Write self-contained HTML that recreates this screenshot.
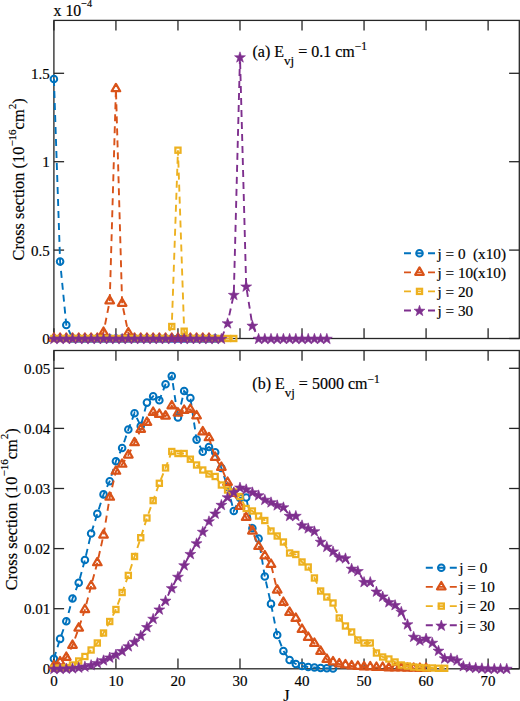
<!DOCTYPE html>
<html><head><meta charset="utf-8"><style>
html,body{margin:0;padding:0;background:#fff;}
svg{display:block;}
text{font-family:"Liberation Serif",serif;font-size:15px;fill:#000;stroke:#000;stroke-width:0.18px;}
.lg{font-size:15.2px;}
.an{font-size:16px;}
</style></head><body>
<svg width="520" height="701" viewBox="0 0 520 701">
<defs>
<clipPath id="c1"><rect x="43.9" y="10.399999999999999" width="475.9" height="338.1"/></clipPath>
<clipPath id="c2"><rect x="43.9" y="340.5" width="475.9" height="338.29999999999995"/></clipPath>
</defs>
<rect x="0" y="0" width="520" height="701" fill="#fff"/>
<g stroke="#262626" stroke-width="1.3" fill="none">
<line x1="53.90" y1="338.50" x2="53.90" y2="328.30"/>
<line x1="53.90" y1="20.40" x2="53.90" y2="30.60"/>
<line x1="115.93" y1="338.50" x2="115.93" y2="328.30"/>
<line x1="115.93" y1="20.40" x2="115.93" y2="30.60"/>
<line x1="177.96" y1="338.50" x2="177.96" y2="328.30"/>
<line x1="177.96" y1="20.40" x2="177.96" y2="30.60"/>
<line x1="239.99" y1="338.50" x2="239.99" y2="328.30"/>
<line x1="239.99" y1="20.40" x2="239.99" y2="30.60"/>
<line x1="302.02" y1="338.50" x2="302.02" y2="328.30"/>
<line x1="302.02" y1="20.40" x2="302.02" y2="30.60"/>
<line x1="364.05" y1="338.50" x2="364.05" y2="328.30"/>
<line x1="364.05" y1="20.40" x2="364.05" y2="30.60"/>
<line x1="426.08" y1="338.50" x2="426.08" y2="328.30"/>
<line x1="426.08" y1="20.40" x2="426.08" y2="30.60"/>
<line x1="488.11" y1="338.50" x2="488.11" y2="328.30"/>
<line x1="488.11" y1="20.40" x2="488.11" y2="30.60"/>
<line x1="53.90" y1="338.50" x2="64.10" y2="338.50"/>
<line x1="519.30" y1="338.50" x2="509.10" y2="338.50"/>
<line x1="53.90" y1="250.10" x2="64.10" y2="250.10"/>
<line x1="519.30" y1="250.10" x2="509.10" y2="250.10"/>
<line x1="53.90" y1="161.70" x2="64.10" y2="161.70"/>
<line x1="519.30" y1="161.70" x2="509.10" y2="161.70"/>
<line x1="53.90" y1="73.30" x2="64.10" y2="73.30"/>
<line x1="519.30" y1="73.30" x2="509.10" y2="73.30"/>
<rect x="53.90" y="20.40" width="465.40" height="318.10" fill="none"/>
<line x1="53.90" y1="668.80" x2="53.90" y2="658.60"/>
<line x1="53.90" y1="350.50" x2="53.90" y2="360.70"/>
<line x1="115.93" y1="668.80" x2="115.93" y2="658.60"/>
<line x1="115.93" y1="350.50" x2="115.93" y2="360.70"/>
<line x1="177.96" y1="668.80" x2="177.96" y2="658.60"/>
<line x1="177.96" y1="350.50" x2="177.96" y2="360.70"/>
<line x1="239.99" y1="668.80" x2="239.99" y2="658.60"/>
<line x1="239.99" y1="350.50" x2="239.99" y2="360.70"/>
<line x1="302.02" y1="668.80" x2="302.02" y2="658.60"/>
<line x1="302.02" y1="350.50" x2="302.02" y2="360.70"/>
<line x1="364.05" y1="668.80" x2="364.05" y2="658.60"/>
<line x1="364.05" y1="350.50" x2="364.05" y2="360.70"/>
<line x1="426.08" y1="668.80" x2="426.08" y2="658.60"/>
<line x1="426.08" y1="350.50" x2="426.08" y2="360.70"/>
<line x1="488.11" y1="668.80" x2="488.11" y2="658.60"/>
<line x1="488.11" y1="350.50" x2="488.11" y2="360.70"/>
<line x1="53.90" y1="668.80" x2="64.10" y2="668.80"/>
<line x1="519.30" y1="668.80" x2="509.10" y2="668.80"/>
<line x1="53.90" y1="608.70" x2="64.10" y2="608.70"/>
<line x1="519.30" y1="608.70" x2="509.10" y2="608.70"/>
<line x1="53.90" y1="548.60" x2="64.10" y2="548.60"/>
<line x1="519.30" y1="548.60" x2="509.10" y2="548.60"/>
<line x1="53.90" y1="488.50" x2="64.10" y2="488.50"/>
<line x1="519.30" y1="488.50" x2="509.10" y2="488.50"/>
<line x1="53.90" y1="428.40" x2="64.10" y2="428.40"/>
<line x1="519.30" y1="428.40" x2="509.10" y2="428.40"/>
<line x1="53.90" y1="368.30" x2="64.10" y2="368.30"/>
<line x1="519.30" y1="368.30" x2="509.10" y2="368.30"/>
<rect x="53.90" y="350.50" width="465.40" height="318.30" fill="none"/>
</g>
<g>
<text x="49.8" y="344.00" text-anchor="end">0</text>
<text x="49.8" y="255.60" text-anchor="end">0.5</text>
<text x="49.8" y="167.20" text-anchor="end">1</text>
<text x="49.8" y="78.80" text-anchor="end">1.5</text>
<text x="50.2" y="674.30" text-anchor="end">0</text>
<text x="50.2" y="614.20" text-anchor="end">0.01</text>
<text x="50.2" y="554.10" text-anchor="end">0.02</text>
<text x="50.2" y="494.00" text-anchor="end">0.03</text>
<text x="50.2" y="433.90" text-anchor="end">0.04</text>
<text x="50.2" y="373.80" text-anchor="end">0.05</text>
<text x="53.90" y="686" text-anchor="middle">0</text>
<text x="115.93" y="686" text-anchor="middle">10</text>
<text x="177.96" y="686" text-anchor="middle">20</text>
<text x="239.99" y="686" text-anchor="middle">30</text>
<text x="302.02" y="686" text-anchor="middle">40</text>
<text x="364.05" y="686" text-anchor="middle">50</text>
<text x="426.08" y="686" text-anchor="middle">60</text>
<text x="488.11" y="686" text-anchor="middle">70</text>
</g>
<g clip-path="url(#c1)">
<polyline points="53.90,79.00 60.10,261.50 66.31,325.00 72.51,338.50 78.71,338.50 84.91,338.50 91.12,338.50 97.32,338.50 103.52,338.50 109.73,338.50 115.93,338.50 122.13,338.50 128.34,338.50 134.54,338.50 140.74,338.50 146.94,338.50 153.15,338.50 159.35,338.50 165.55,338.50 171.76,338.50 177.96,338.50 184.16,338.50 190.37,338.50 196.57,338.50 202.77,338.50 208.98,338.50 215.18,338.50" fill="none" stroke="#0072BD" stroke-width="1.9" stroke-dasharray="7 5"/>
<circle cx="53.90" cy="79.00" r="3.3" fill="none" stroke="#0072BD" stroke-width="2"/>
<circle cx="60.10" cy="261.50" r="3.3" fill="none" stroke="#0072BD" stroke-width="2"/>
<circle cx="66.31" cy="325.00" r="3.3" fill="none" stroke="#0072BD" stroke-width="2"/>
<circle cx="72.51" cy="338.50" r="3.3" fill="none" stroke="#0072BD" stroke-width="2"/>
<circle cx="78.71" cy="338.50" r="3.3" fill="none" stroke="#0072BD" stroke-width="2"/>
<circle cx="84.91" cy="338.50" r="3.3" fill="none" stroke="#0072BD" stroke-width="2"/>
<circle cx="91.12" cy="338.50" r="3.3" fill="none" stroke="#0072BD" stroke-width="2"/>
<circle cx="97.32" cy="338.50" r="3.3" fill="none" stroke="#0072BD" stroke-width="2"/>
<circle cx="103.52" cy="338.50" r="3.3" fill="none" stroke="#0072BD" stroke-width="2"/>
<circle cx="109.73" cy="338.50" r="3.3" fill="none" stroke="#0072BD" stroke-width="2"/>
<circle cx="115.93" cy="338.50" r="3.3" fill="none" stroke="#0072BD" stroke-width="2"/>
<circle cx="122.13" cy="338.50" r="3.3" fill="none" stroke="#0072BD" stroke-width="2"/>
<circle cx="128.34" cy="338.50" r="3.3" fill="none" stroke="#0072BD" stroke-width="2"/>
<circle cx="134.54" cy="338.50" r="3.3" fill="none" stroke="#0072BD" stroke-width="2"/>
<circle cx="140.74" cy="338.50" r="3.3" fill="none" stroke="#0072BD" stroke-width="2"/>
<circle cx="146.94" cy="338.50" r="3.3" fill="none" stroke="#0072BD" stroke-width="2"/>
<circle cx="153.15" cy="338.50" r="3.3" fill="none" stroke="#0072BD" stroke-width="2"/>
<circle cx="159.35" cy="338.50" r="3.3" fill="none" stroke="#0072BD" stroke-width="2"/>
<circle cx="165.55" cy="338.50" r="3.3" fill="none" stroke="#0072BD" stroke-width="2"/>
<circle cx="171.76" cy="338.50" r="3.3" fill="none" stroke="#0072BD" stroke-width="2"/>
<circle cx="177.96" cy="338.50" r="3.3" fill="none" stroke="#0072BD" stroke-width="2"/>
<circle cx="184.16" cy="338.50" r="3.3" fill="none" stroke="#0072BD" stroke-width="2"/>
<circle cx="190.37" cy="338.50" r="3.3" fill="none" stroke="#0072BD" stroke-width="2"/>
<circle cx="196.57" cy="338.50" r="3.3" fill="none" stroke="#0072BD" stroke-width="2"/>
<circle cx="202.77" cy="338.50" r="3.3" fill="none" stroke="#0072BD" stroke-width="2"/>
<circle cx="208.98" cy="338.50" r="3.3" fill="none" stroke="#0072BD" stroke-width="2"/>
<circle cx="215.18" cy="338.50" r="3.3" fill="none" stroke="#0072BD" stroke-width="2"/>
</g>
<g clip-path="url(#c1)">
<polyline points="53.90,338.50 60.10,338.50 66.31,338.50 72.51,338.50 78.71,338.50 84.91,338.50 91.12,338.50 97.32,338.50 103.52,332.40 109.73,301.00 115.93,88.80 122.13,303.40 128.34,332.90 134.54,338.50 140.74,338.50 146.94,338.50 153.15,338.50 159.35,338.50 165.55,338.50 171.76,338.50 177.96,338.50 184.16,338.50 190.37,338.50 196.57,338.50 202.77,338.50 208.98,338.50" fill="none" stroke="#D95319" stroke-width="1.9" stroke-dasharray="7 5"/>
<path d="M53.90 333.55L58.20 340.90L49.60 340.90Z" fill="none" stroke="#D95319" stroke-width="2.25" stroke-linejoin="round"/>
<path d="M60.10 333.55L64.40 340.90L55.80 340.90Z" fill="none" stroke="#D95319" stroke-width="2.25" stroke-linejoin="round"/>
<path d="M66.31 333.55L70.61 340.90L62.01 340.90Z" fill="none" stroke="#D95319" stroke-width="2.25" stroke-linejoin="round"/>
<path d="M72.51 333.55L76.81 340.90L68.21 340.90Z" fill="none" stroke="#D95319" stroke-width="2.25" stroke-linejoin="round"/>
<path d="M78.71 333.55L83.01 340.90L74.41 340.90Z" fill="none" stroke="#D95319" stroke-width="2.25" stroke-linejoin="round"/>
<path d="M84.91 333.55L89.21 340.90L80.61 340.90Z" fill="none" stroke="#D95319" stroke-width="2.25" stroke-linejoin="round"/>
<path d="M91.12 333.55L95.42 340.90L86.82 340.90Z" fill="none" stroke="#D95319" stroke-width="2.25" stroke-linejoin="round"/>
<path d="M97.32 333.55L101.62 340.90L93.02 340.90Z" fill="none" stroke="#D95319" stroke-width="2.25" stroke-linejoin="round"/>
<path d="M103.52 327.45L107.82 334.80L99.22 334.80Z" fill="none" stroke="#D95319" stroke-width="2.25" stroke-linejoin="round"/>
<path d="M109.73 296.05L114.03 303.40L105.43 303.40Z" fill="none" stroke="#D95319" stroke-width="2.25" stroke-linejoin="round"/>
<path d="M115.93 83.85L120.23 91.20L111.63 91.20Z" fill="none" stroke="#D95319" stroke-width="2.25" stroke-linejoin="round"/>
<path d="M122.13 298.45L126.43 305.80L117.83 305.80Z" fill="none" stroke="#D95319" stroke-width="2.25" stroke-linejoin="round"/>
<path d="M128.34 327.95L132.64 335.30L124.04 335.30Z" fill="none" stroke="#D95319" stroke-width="2.25" stroke-linejoin="round"/>
<path d="M134.54 333.55L138.84 340.90L130.24 340.90Z" fill="none" stroke="#D95319" stroke-width="2.25" stroke-linejoin="round"/>
<path d="M140.74 333.55L145.04 340.90L136.44 340.90Z" fill="none" stroke="#D95319" stroke-width="2.25" stroke-linejoin="round"/>
<path d="M146.94 333.55L151.25 340.90L142.64 340.90Z" fill="none" stroke="#D95319" stroke-width="2.25" stroke-linejoin="round"/>
<path d="M153.15 333.55L157.45 340.90L148.85 340.90Z" fill="none" stroke="#D95319" stroke-width="2.25" stroke-linejoin="round"/>
<path d="M159.35 333.55L163.65 340.90L155.05 340.90Z" fill="none" stroke="#D95319" stroke-width="2.25" stroke-linejoin="round"/>
<path d="M165.55 333.55L169.85 340.90L161.25 340.90Z" fill="none" stroke="#D95319" stroke-width="2.25" stroke-linejoin="round"/>
<path d="M171.76 333.55L176.06 340.90L167.46 340.90Z" fill="none" stroke="#D95319" stroke-width="2.25" stroke-linejoin="round"/>
<path d="M177.96 333.55L182.26 340.90L173.66 340.90Z" fill="none" stroke="#D95319" stroke-width="2.25" stroke-linejoin="round"/>
<path d="M184.16 333.55L188.46 340.90L179.86 340.90Z" fill="none" stroke="#D95319" stroke-width="2.25" stroke-linejoin="round"/>
<path d="M190.37 333.55L194.67 340.90L186.07 340.90Z" fill="none" stroke="#D95319" stroke-width="2.25" stroke-linejoin="round"/>
<path d="M196.57 333.55L200.87 340.90L192.27 340.90Z" fill="none" stroke="#D95319" stroke-width="2.25" stroke-linejoin="round"/>
<path d="M202.77 333.55L207.07 340.90L198.47 340.90Z" fill="none" stroke="#D95319" stroke-width="2.25" stroke-linejoin="round"/>
<path d="M208.98 333.55L213.28 340.90L204.68 340.90Z" fill="none" stroke="#D95319" stroke-width="2.25" stroke-linejoin="round"/>
</g>
<g clip-path="url(#c1)">
<polyline points="53.90,338.50 60.10,338.50 66.31,338.50 72.51,338.50 78.71,338.50 84.91,338.50 91.12,338.50 97.32,338.50 103.52,338.50 109.73,338.50 115.93,338.50 122.13,338.50 128.34,338.50 134.54,338.50 140.74,338.50 146.94,338.50 153.15,338.50 159.35,338.50 165.55,338.50 171.76,326.50 177.96,150.20 184.16,331.20 190.37,338.50 196.57,338.50 202.77,338.50 208.98,338.50 215.18,338.50 221.38,338.50 227.58,338.50 233.79,338.50" fill="none" stroke="#EDB120" stroke-width="1.9" stroke-dasharray="7 5"/>
<rect x="51.30" y="335.90" width="5.20" height="5.20" fill="none" stroke="#EDB120" stroke-width="2.2"/>
<rect x="57.50" y="335.90" width="5.20" height="5.20" fill="none" stroke="#EDB120" stroke-width="2.2"/>
<rect x="63.71" y="335.90" width="5.20" height="5.20" fill="none" stroke="#EDB120" stroke-width="2.2"/>
<rect x="69.91" y="335.90" width="5.20" height="5.20" fill="none" stroke="#EDB120" stroke-width="2.2"/>
<rect x="76.11" y="335.90" width="5.20" height="5.20" fill="none" stroke="#EDB120" stroke-width="2.2"/>
<rect x="82.31" y="335.90" width="5.20" height="5.20" fill="none" stroke="#EDB120" stroke-width="2.2"/>
<rect x="88.52" y="335.90" width="5.20" height="5.20" fill="none" stroke="#EDB120" stroke-width="2.2"/>
<rect x="94.72" y="335.90" width="5.20" height="5.20" fill="none" stroke="#EDB120" stroke-width="2.2"/>
<rect x="100.92" y="335.90" width="5.20" height="5.20" fill="none" stroke="#EDB120" stroke-width="2.2"/>
<rect x="107.13" y="335.90" width="5.20" height="5.20" fill="none" stroke="#EDB120" stroke-width="2.2"/>
<rect x="113.33" y="335.90" width="5.20" height="5.20" fill="none" stroke="#EDB120" stroke-width="2.2"/>
<rect x="119.53" y="335.90" width="5.20" height="5.20" fill="none" stroke="#EDB120" stroke-width="2.2"/>
<rect x="125.74" y="335.90" width="5.20" height="5.20" fill="none" stroke="#EDB120" stroke-width="2.2"/>
<rect x="131.94" y="335.90" width="5.20" height="5.20" fill="none" stroke="#EDB120" stroke-width="2.2"/>
<rect x="138.14" y="335.90" width="5.20" height="5.20" fill="none" stroke="#EDB120" stroke-width="2.2"/>
<rect x="144.34" y="335.90" width="5.20" height="5.20" fill="none" stroke="#EDB120" stroke-width="2.2"/>
<rect x="150.55" y="335.90" width="5.20" height="5.20" fill="none" stroke="#EDB120" stroke-width="2.2"/>
<rect x="156.75" y="335.90" width="5.20" height="5.20" fill="none" stroke="#EDB120" stroke-width="2.2"/>
<rect x="162.95" y="335.90" width="5.20" height="5.20" fill="none" stroke="#EDB120" stroke-width="2.2"/>
<rect x="169.16" y="323.90" width="5.20" height="5.20" fill="none" stroke="#EDB120" stroke-width="2.2"/>
<rect x="175.36" y="147.60" width="5.20" height="5.20" fill="none" stroke="#EDB120" stroke-width="2.2"/>
<rect x="181.56" y="328.60" width="5.20" height="5.20" fill="none" stroke="#EDB120" stroke-width="2.2"/>
<rect x="187.77" y="335.90" width="5.20" height="5.20" fill="none" stroke="#EDB120" stroke-width="2.2"/>
<rect x="193.97" y="335.90" width="5.20" height="5.20" fill="none" stroke="#EDB120" stroke-width="2.2"/>
<rect x="200.17" y="335.90" width="5.20" height="5.20" fill="none" stroke="#EDB120" stroke-width="2.2"/>
<rect x="206.38" y="335.90" width="5.20" height="5.20" fill="none" stroke="#EDB120" stroke-width="2.2"/>
<rect x="212.58" y="335.90" width="5.20" height="5.20" fill="none" stroke="#EDB120" stroke-width="2.2"/>
<rect x="218.78" y="335.90" width="5.20" height="5.20" fill="none" stroke="#EDB120" stroke-width="2.2"/>
<rect x="224.98" y="335.90" width="5.20" height="5.20" fill="none" stroke="#EDB120" stroke-width="2.2"/>
<rect x="231.19" y="335.90" width="5.20" height="5.20" fill="none" stroke="#EDB120" stroke-width="2.2"/>
</g>
<g clip-path="url(#c1)">
<polyline points="53.90,338.50 60.10,338.50 66.31,338.50 72.51,338.50 78.71,338.50 84.91,338.50 91.12,338.50 97.32,338.50 103.52,338.50 109.73,338.50 115.93,338.50 122.13,338.50 128.34,338.50 134.54,338.50 140.74,338.50 146.94,338.50 153.15,338.50 159.35,338.50 165.55,338.50 171.76,338.50 177.96,338.50 184.16,338.50 190.37,338.50 196.57,338.50 202.77,338.50 208.98,338.50 215.18,338.50 221.38,338.50 227.58,323.00 233.79,294.60 239.99,57.00 246.19,286.20 252.40,325.40 258.60,338.50 264.80,338.50 271.00,338.50 277.21,338.50 283.41,338.50 289.61,338.50 295.82,338.50 302.02,338.50 308.22,338.50 314.43,338.50 320.63,338.50 326.83,338.50" fill="none" stroke="#7E2F8E" stroke-width="1.9" stroke-dasharray="7 5"/>
<polygon points="53.90,333.30 55.25,337.19 59.37,337.27 56.09,339.76 57.28,343.70 53.90,341.35 50.52,343.70 51.71,339.76 48.43,337.27 52.55,337.19" fill="#7E2F8E" stroke="#7E2F8E" stroke-width="0.6" stroke-linejoin="round"/>
<polygon points="60.10,333.30 61.45,337.19 65.57,337.27 62.29,339.76 63.48,343.70 60.10,341.35 56.72,343.70 57.92,339.76 54.63,337.27 58.75,337.19" fill="#7E2F8E" stroke="#7E2F8E" stroke-width="0.6" stroke-linejoin="round"/>
<polygon points="66.31,333.30 67.66,337.19 71.77,337.27 68.49,339.76 69.69,343.70 66.31,341.35 62.93,343.70 64.12,339.76 60.84,337.27 64.95,337.19" fill="#7E2F8E" stroke="#7E2F8E" stroke-width="0.6" stroke-linejoin="round"/>
<polygon points="72.51,333.30 73.86,337.19 77.98,337.27 74.70,339.76 75.89,343.70 72.51,341.35 69.13,343.70 70.32,339.76 67.04,337.27 71.16,337.19" fill="#7E2F8E" stroke="#7E2F8E" stroke-width="0.6" stroke-linejoin="round"/>
<polygon points="78.71,333.30 80.06,337.19 84.18,337.27 80.90,339.76 82.09,343.70 78.71,341.35 75.33,343.70 76.52,339.76 73.24,337.27 77.36,337.19" fill="#7E2F8E" stroke="#7E2F8E" stroke-width="0.6" stroke-linejoin="round"/>
<polygon points="84.91,333.30 86.27,337.19 90.38,337.27 87.10,339.76 88.29,343.70 84.91,341.35 81.54,343.70 82.73,339.76 79.45,337.27 83.56,337.19" fill="#7E2F8E" stroke="#7E2F8E" stroke-width="0.6" stroke-linejoin="round"/>
<polygon points="91.12,333.30 92.47,337.19 96.59,337.27 93.31,339.76 94.50,343.70 91.12,341.35 87.74,343.70 88.93,339.76 85.65,337.27 89.77,337.19" fill="#7E2F8E" stroke="#7E2F8E" stroke-width="0.6" stroke-linejoin="round"/>
<polygon points="97.32,333.30 98.67,337.19 102.79,337.27 99.51,339.76 100.70,343.70 97.32,341.35 93.94,343.70 95.13,339.76 91.85,337.27 95.97,337.19" fill="#7E2F8E" stroke="#7E2F8E" stroke-width="0.6" stroke-linejoin="round"/>
<polygon points="103.52,333.30 104.88,337.19 108.99,337.27 105.71,339.76 106.90,343.70 103.52,341.35 100.14,343.70 101.34,339.76 98.06,337.27 102.17,337.19" fill="#7E2F8E" stroke="#7E2F8E" stroke-width="0.6" stroke-linejoin="round"/>
<polygon points="109.73,333.30 111.08,337.19 115.20,337.27 111.91,339.76 113.11,343.70 109.73,341.35 106.35,343.70 107.54,339.76 104.26,337.27 108.38,337.19" fill="#7E2F8E" stroke="#7E2F8E" stroke-width="0.6" stroke-linejoin="round"/>
<polygon points="115.93,333.30 117.28,337.19 121.40,337.27 118.12,339.76 119.31,343.70 115.93,341.35 112.55,343.70 113.74,339.76 110.46,337.27 114.58,337.19" fill="#7E2F8E" stroke="#7E2F8E" stroke-width="0.6" stroke-linejoin="round"/>
<polygon points="122.13,333.30 123.48,337.19 127.60,337.27 124.32,339.76 125.51,343.70 122.13,341.35 118.75,343.70 119.95,339.76 116.66,337.27 120.78,337.19" fill="#7E2F8E" stroke="#7E2F8E" stroke-width="0.6" stroke-linejoin="round"/>
<polygon points="128.34,333.30 129.69,337.19 133.80,337.27 130.52,339.76 131.72,343.70 128.34,341.35 124.96,343.70 126.15,339.76 122.87,337.27 126.98,337.19" fill="#7E2F8E" stroke="#7E2F8E" stroke-width="0.6" stroke-linejoin="round"/>
<polygon points="134.54,333.30 135.89,337.19 140.01,337.27 136.73,339.76 137.92,343.70 134.54,341.35 131.16,343.70 132.35,339.76 129.07,337.27 133.19,337.19" fill="#7E2F8E" stroke="#7E2F8E" stroke-width="0.6" stroke-linejoin="round"/>
<polygon points="140.74,333.30 142.09,337.19 146.21,337.27 142.93,339.76 144.12,343.70 140.74,341.35 137.36,343.70 138.55,339.76 135.27,337.27 139.39,337.19" fill="#7E2F8E" stroke="#7E2F8E" stroke-width="0.6" stroke-linejoin="round"/>
<polygon points="146.94,333.30 148.30,337.19 152.41,337.27 149.13,339.76 150.32,343.70 146.94,341.35 143.57,343.70 144.76,339.76 141.48,337.27 145.59,337.19" fill="#7E2F8E" stroke="#7E2F8E" stroke-width="0.6" stroke-linejoin="round"/>
<polygon points="153.15,333.30 154.50,337.19 158.62,337.27 155.34,339.76 156.53,343.70 153.15,341.35 149.77,343.70 150.96,339.76 147.68,337.27 151.80,337.19" fill="#7E2F8E" stroke="#7E2F8E" stroke-width="0.6" stroke-linejoin="round"/>
<polygon points="159.35,333.30 160.70,337.19 164.82,337.27 161.54,339.76 162.73,343.70 159.35,341.35 155.97,343.70 157.16,339.76 153.88,337.27 158.00,337.19" fill="#7E2F8E" stroke="#7E2F8E" stroke-width="0.6" stroke-linejoin="round"/>
<polygon points="165.55,333.30 166.91,337.19 171.02,337.27 167.74,339.76 168.93,343.70 165.55,341.35 162.17,343.70 163.37,339.76 160.09,337.27 164.20,337.19" fill="#7E2F8E" stroke="#7E2F8E" stroke-width="0.6" stroke-linejoin="round"/>
<polygon points="171.76,333.30 173.11,337.19 177.23,337.27 173.94,339.76 175.14,343.70 171.76,341.35 168.38,343.70 169.57,339.76 166.29,337.27 170.41,337.19" fill="#7E2F8E" stroke="#7E2F8E" stroke-width="0.6" stroke-linejoin="round"/>
<polygon points="177.96,333.30 179.31,337.19 183.43,337.27 180.15,339.76 181.34,343.70 177.96,341.35 174.58,343.70 175.77,339.76 172.49,337.27 176.61,337.19" fill="#7E2F8E" stroke="#7E2F8E" stroke-width="0.6" stroke-linejoin="round"/>
<polygon points="184.16,333.30 185.51,337.19 189.63,337.27 186.35,339.76 187.54,343.70 184.16,341.35 180.78,343.70 181.98,339.76 178.69,337.27 182.81,337.19" fill="#7E2F8E" stroke="#7E2F8E" stroke-width="0.6" stroke-linejoin="round"/>
<polygon points="190.37,333.30 191.72,337.19 195.83,337.27 192.55,339.76 193.75,343.70 190.37,341.35 186.99,343.70 188.18,339.76 184.90,337.27 189.01,337.19" fill="#7E2F8E" stroke="#7E2F8E" stroke-width="0.6" stroke-linejoin="round"/>
<polygon points="196.57,333.30 197.92,337.19 202.04,337.27 198.76,339.76 199.95,343.70 196.57,341.35 193.19,343.70 194.38,339.76 191.10,337.27 195.22,337.19" fill="#7E2F8E" stroke="#7E2F8E" stroke-width="0.6" stroke-linejoin="round"/>
<polygon points="202.77,333.30 204.12,337.19 208.24,337.27 204.96,339.76 206.15,343.70 202.77,341.35 199.39,343.70 200.58,339.76 197.30,337.27 201.42,337.19" fill="#7E2F8E" stroke="#7E2F8E" stroke-width="0.6" stroke-linejoin="round"/>
<polygon points="208.98,333.30 210.33,337.19 214.44,337.27 211.16,339.76 212.35,343.70 208.98,341.35 205.60,343.70 206.79,339.76 203.51,337.27 207.62,337.19" fill="#7E2F8E" stroke="#7E2F8E" stroke-width="0.6" stroke-linejoin="round"/>
<polygon points="215.18,333.30 216.53,337.19 220.65,337.27 217.37,339.76 218.56,343.70 215.18,341.35 211.80,343.70 212.99,339.76 209.71,337.27 213.83,337.19" fill="#7E2F8E" stroke="#7E2F8E" stroke-width="0.6" stroke-linejoin="round"/>
<polygon points="221.38,333.30 222.73,337.19 226.85,337.27 223.57,339.76 224.76,343.70 221.38,341.35 218.00,343.70 219.19,339.76 215.91,337.27 220.03,337.19" fill="#7E2F8E" stroke="#7E2F8E" stroke-width="0.6" stroke-linejoin="round"/>
<polygon points="227.58,317.80 228.94,321.69 233.05,321.77 229.77,324.26 230.96,328.20 227.58,325.85 224.20,328.20 225.40,324.26 222.12,321.77 226.23,321.69" fill="#7E2F8E" stroke="#7E2F8E" stroke-width="0.6" stroke-linejoin="round"/>
<polygon points="233.79,289.40 235.14,293.29 239.26,293.37 235.97,295.86 237.17,299.80 233.79,297.45 230.41,299.80 231.60,295.86 228.32,293.37 232.44,293.29" fill="#7E2F8E" stroke="#7E2F8E" stroke-width="0.6" stroke-linejoin="round"/>
<polygon points="239.99,51.80 241.34,55.69 245.46,55.77 242.18,58.26 243.37,62.20 239.99,59.85 236.61,62.20 237.80,58.26 234.52,55.77 238.64,55.69" fill="#7E2F8E" stroke="#7E2F8E" stroke-width="0.6" stroke-linejoin="round"/>
<polygon points="246.19,281.00 247.54,284.89 251.66,284.97 248.38,287.46 249.57,291.40 246.19,289.05 242.81,291.40 244.01,287.46 240.72,284.97 244.84,284.89" fill="#7E2F8E" stroke="#7E2F8E" stroke-width="0.6" stroke-linejoin="round"/>
<polygon points="252.40,320.20 253.75,324.09 257.86,324.17 254.58,326.66 255.78,330.60 252.40,328.25 249.02,330.60 250.21,326.66 246.93,324.17 251.04,324.09" fill="#7E2F8E" stroke="#7E2F8E" stroke-width="0.6" stroke-linejoin="round"/>
<polygon points="258.60,333.30 259.95,337.19 264.07,337.27 260.79,339.76 261.98,343.70 258.60,341.35 255.22,343.70 256.41,339.76 253.13,337.27 257.25,337.19" fill="#7E2F8E" stroke="#7E2F8E" stroke-width="0.6" stroke-linejoin="round"/>
<polygon points="264.80,333.30 266.15,337.19 270.27,337.27 266.99,339.76 268.18,343.70 264.80,341.35 261.42,343.70 262.61,339.76 259.33,337.27 263.45,337.19" fill="#7E2F8E" stroke="#7E2F8E" stroke-width="0.6" stroke-linejoin="round"/>
<polygon points="271.00,333.30 272.36,337.19 276.47,337.27 273.19,339.76 274.38,343.70 271.00,341.35 267.63,343.70 268.82,339.76 265.54,337.27 269.65,337.19" fill="#7E2F8E" stroke="#7E2F8E" stroke-width="0.6" stroke-linejoin="round"/>
<polygon points="277.21,333.30 278.56,337.19 282.68,337.27 279.40,339.76 280.59,343.70 277.21,341.35 273.83,343.70 275.02,339.76 271.74,337.27 275.86,337.19" fill="#7E2F8E" stroke="#7E2F8E" stroke-width="0.6" stroke-linejoin="round"/>
<polygon points="283.41,333.30 284.76,337.19 288.88,337.27 285.60,339.76 286.79,343.70 283.41,341.35 280.03,343.70 281.22,339.76 277.94,337.27 282.06,337.19" fill="#7E2F8E" stroke="#7E2F8E" stroke-width="0.6" stroke-linejoin="round"/>
<polygon points="289.61,333.30 290.97,337.19 295.08,337.27 291.80,339.76 292.99,343.70 289.61,341.35 286.23,343.70 287.43,339.76 284.15,337.27 288.26,337.19" fill="#7E2F8E" stroke="#7E2F8E" stroke-width="0.6" stroke-linejoin="round"/>
<polygon points="295.82,333.30 297.17,337.19 301.29,337.27 298.00,339.76 299.20,343.70 295.82,341.35 292.44,343.70 293.63,339.76 290.35,337.27 294.47,337.19" fill="#7E2F8E" stroke="#7E2F8E" stroke-width="0.6" stroke-linejoin="round"/>
<polygon points="302.02,333.30 303.37,337.19 307.49,337.27 304.21,339.76 305.40,343.70 302.02,341.35 298.64,343.70 299.83,339.76 296.55,337.27 300.67,337.19" fill="#7E2F8E" stroke="#7E2F8E" stroke-width="0.6" stroke-linejoin="round"/>
<polygon points="308.22,333.30 309.57,337.19 313.69,337.27 310.41,339.76 311.60,343.70 308.22,341.35 304.84,343.70 306.04,339.76 302.75,337.27 306.87,337.19" fill="#7E2F8E" stroke="#7E2F8E" stroke-width="0.6" stroke-linejoin="round"/>
<polygon points="314.43,333.30 315.78,337.19 319.89,337.27 316.61,339.76 317.81,343.70 314.43,341.35 311.05,343.70 312.24,339.76 308.96,337.27 313.07,337.19" fill="#7E2F8E" stroke="#7E2F8E" stroke-width="0.6" stroke-linejoin="round"/>
<polygon points="320.63,333.30 321.98,337.19 326.10,337.27 322.82,339.76 324.01,343.70 320.63,341.35 317.25,343.70 318.44,339.76 315.16,337.27 319.28,337.19" fill="#7E2F8E" stroke="#7E2F8E" stroke-width="0.6" stroke-linejoin="round"/>
<polygon points="326.83,333.30 328.18,337.19 332.30,337.27 329.02,339.76 330.21,343.70 326.83,341.35 323.45,343.70 324.64,339.76 321.36,337.27 325.48,337.19" fill="#7E2F8E" stroke="#7E2F8E" stroke-width="0.6" stroke-linejoin="round"/>
</g>
<g clip-path="url(#c2)">
<polyline points="53.90,658.70 60.10,638.90 66.31,621.20 72.51,598.50 78.71,582.80 84.91,560.00 91.12,533.50 97.32,513.80 103.52,494.40 109.73,481.20 115.93,461.20 122.13,448.00 128.34,429.50 134.54,413.20 140.74,426.00 146.94,402.60 153.15,396.30 159.35,400.20 165.55,384.30 171.76,376.10 177.96,417.50 184.16,391.00 190.37,398.00 196.57,439.60 202.77,451.70 208.98,447.00 215.18,452.30 221.38,468.00 227.58,487.00 233.79,511.00 239.99,498.00 246.19,497.50 252.40,528.30 258.60,538.60 264.80,576.50 271.00,603.90 277.21,635.00 283.41,651.00 289.61,660.00 295.82,664.00 302.02,666.00 308.22,667.00 314.43,667.50 320.63,668.00 326.83,668.30 333.03,668.50" fill="none" stroke="#0072BD" stroke-width="1.9" stroke-dasharray="7 5"/>
<circle cx="53.90" cy="658.70" r="3.3" fill="none" stroke="#0072BD" stroke-width="2"/>
<circle cx="60.10" cy="638.90" r="3.3" fill="none" stroke="#0072BD" stroke-width="2"/>
<circle cx="66.31" cy="621.20" r="3.3" fill="none" stroke="#0072BD" stroke-width="2"/>
<circle cx="72.51" cy="598.50" r="3.3" fill="none" stroke="#0072BD" stroke-width="2"/>
<circle cx="78.71" cy="582.80" r="3.3" fill="none" stroke="#0072BD" stroke-width="2"/>
<circle cx="84.91" cy="560.00" r="3.3" fill="none" stroke="#0072BD" stroke-width="2"/>
<circle cx="91.12" cy="533.50" r="3.3" fill="none" stroke="#0072BD" stroke-width="2"/>
<circle cx="97.32" cy="513.80" r="3.3" fill="none" stroke="#0072BD" stroke-width="2"/>
<circle cx="103.52" cy="494.40" r="3.3" fill="none" stroke="#0072BD" stroke-width="2"/>
<circle cx="109.73" cy="481.20" r="3.3" fill="none" stroke="#0072BD" stroke-width="2"/>
<circle cx="115.93" cy="461.20" r="3.3" fill="none" stroke="#0072BD" stroke-width="2"/>
<circle cx="122.13" cy="448.00" r="3.3" fill="none" stroke="#0072BD" stroke-width="2"/>
<circle cx="128.34" cy="429.50" r="3.3" fill="none" stroke="#0072BD" stroke-width="2"/>
<circle cx="134.54" cy="413.20" r="3.3" fill="none" stroke="#0072BD" stroke-width="2"/>
<circle cx="140.74" cy="426.00" r="3.3" fill="none" stroke="#0072BD" stroke-width="2"/>
<circle cx="146.94" cy="402.60" r="3.3" fill="none" stroke="#0072BD" stroke-width="2"/>
<circle cx="153.15" cy="396.30" r="3.3" fill="none" stroke="#0072BD" stroke-width="2"/>
<circle cx="159.35" cy="400.20" r="3.3" fill="none" stroke="#0072BD" stroke-width="2"/>
<circle cx="165.55" cy="384.30" r="3.3" fill="none" stroke="#0072BD" stroke-width="2"/>
<circle cx="171.76" cy="376.10" r="3.3" fill="none" stroke="#0072BD" stroke-width="2"/>
<circle cx="177.96" cy="417.50" r="3.3" fill="none" stroke="#0072BD" stroke-width="2"/>
<circle cx="184.16" cy="391.00" r="3.3" fill="none" stroke="#0072BD" stroke-width="2"/>
<circle cx="190.37" cy="398.00" r="3.3" fill="none" stroke="#0072BD" stroke-width="2"/>
<circle cx="196.57" cy="439.60" r="3.3" fill="none" stroke="#0072BD" stroke-width="2"/>
<circle cx="202.77" cy="451.70" r="3.3" fill="none" stroke="#0072BD" stroke-width="2"/>
<circle cx="208.98" cy="447.00" r="3.3" fill="none" stroke="#0072BD" stroke-width="2"/>
<circle cx="215.18" cy="452.30" r="3.3" fill="none" stroke="#0072BD" stroke-width="2"/>
<circle cx="221.38" cy="468.00" r="3.3" fill="none" stroke="#0072BD" stroke-width="2"/>
<circle cx="227.58" cy="487.00" r="3.3" fill="none" stroke="#0072BD" stroke-width="2"/>
<circle cx="233.79" cy="511.00" r="3.3" fill="none" stroke="#0072BD" stroke-width="2"/>
<circle cx="239.99" cy="498.00" r="3.3" fill="none" stroke="#0072BD" stroke-width="2"/>
<circle cx="246.19" cy="497.50" r="3.3" fill="none" stroke="#0072BD" stroke-width="2"/>
<circle cx="252.40" cy="528.30" r="3.3" fill="none" stroke="#0072BD" stroke-width="2"/>
<circle cx="258.60" cy="538.60" r="3.3" fill="none" stroke="#0072BD" stroke-width="2"/>
<circle cx="264.80" cy="576.50" r="3.3" fill="none" stroke="#0072BD" stroke-width="2"/>
<circle cx="271.00" cy="603.90" r="3.3" fill="none" stroke="#0072BD" stroke-width="2"/>
<circle cx="277.21" cy="635.00" r="3.3" fill="none" stroke="#0072BD" stroke-width="2"/>
<circle cx="283.41" cy="651.00" r="3.3" fill="none" stroke="#0072BD" stroke-width="2"/>
<circle cx="289.61" cy="660.00" r="3.3" fill="none" stroke="#0072BD" stroke-width="2"/>
<circle cx="295.82" cy="664.00" r="3.3" fill="none" stroke="#0072BD" stroke-width="2"/>
<circle cx="302.02" cy="666.00" r="3.3" fill="none" stroke="#0072BD" stroke-width="2"/>
<circle cx="308.22" cy="667.00" r="3.3" fill="none" stroke="#0072BD" stroke-width="2"/>
<circle cx="314.43" cy="667.50" r="3.3" fill="none" stroke="#0072BD" stroke-width="2"/>
<circle cx="320.63" cy="668.00" r="3.3" fill="none" stroke="#0072BD" stroke-width="2"/>
<circle cx="326.83" cy="668.30" r="3.3" fill="none" stroke="#0072BD" stroke-width="2"/>
<circle cx="333.03" cy="668.50" r="3.3" fill="none" stroke="#0072BD" stroke-width="2"/>
</g>
<g clip-path="url(#c2)">
<polyline points="53.90,666.00 60.10,662.00 66.31,657.50 72.51,645.50 78.71,628.20 84.91,609.70 91.12,585.90 97.32,562.80 103.52,535.10 109.73,497.30 115.93,471.30 122.13,464.30 128.34,455.10 134.54,442.80 140.74,429.50 146.94,422.50 153.15,412.50 159.35,414.50 165.55,416.10 171.76,405.90 177.96,413.10 184.16,410.50 190.37,409.50 196.57,415.90 202.77,432.00 208.98,437.80 215.18,457.50 221.38,467.50 227.58,482.50 233.79,493.50 239.99,506.50 246.19,517.50 252.40,531.10 258.60,546.50 264.80,555.90 271.00,564.50 277.21,590.10 283.41,602.50 289.61,612.50 295.82,618.50 302.02,629.50 308.22,637.50 314.43,643.50 320.63,651.50 326.83,659.50 333.03,662.00 339.24,664.00 345.44,665.00 351.64,666.00 357.85,666.50 364.05,667.00 370.25,667.00 376.46,667.50 382.66,667.50 388.86,668.00 395.06,668.00 401.27,668.00 407.47,668.30 413.67,668.30 419.88,668.50 426.08,668.50" fill="none" stroke="#D95319" stroke-width="1.9" stroke-dasharray="7 5"/>
<path d="M53.90 661.05L58.20 668.40L49.60 668.40Z" fill="none" stroke="#D95319" stroke-width="2.25" stroke-linejoin="round"/>
<path d="M60.10 657.05L64.40 664.40L55.80 664.40Z" fill="none" stroke="#D95319" stroke-width="2.25" stroke-linejoin="round"/>
<path d="M66.31 652.55L70.61 659.90L62.01 659.90Z" fill="none" stroke="#D95319" stroke-width="2.25" stroke-linejoin="round"/>
<path d="M72.51 640.55L76.81 647.90L68.21 647.90Z" fill="none" stroke="#D95319" stroke-width="2.25" stroke-linejoin="round"/>
<path d="M78.71 623.25L83.01 630.60L74.41 630.60Z" fill="none" stroke="#D95319" stroke-width="2.25" stroke-linejoin="round"/>
<path d="M84.91 604.75L89.21 612.10L80.61 612.10Z" fill="none" stroke="#D95319" stroke-width="2.25" stroke-linejoin="round"/>
<path d="M91.12 580.95L95.42 588.30L86.82 588.30Z" fill="none" stroke="#D95319" stroke-width="2.25" stroke-linejoin="round"/>
<path d="M97.32 557.85L101.62 565.20L93.02 565.20Z" fill="none" stroke="#D95319" stroke-width="2.25" stroke-linejoin="round"/>
<path d="M103.52 530.15L107.82 537.50L99.22 537.50Z" fill="none" stroke="#D95319" stroke-width="2.25" stroke-linejoin="round"/>
<path d="M109.73 492.35L114.03 499.70L105.43 499.70Z" fill="none" stroke="#D95319" stroke-width="2.25" stroke-linejoin="round"/>
<path d="M115.93 466.35L120.23 473.70L111.63 473.70Z" fill="none" stroke="#D95319" stroke-width="2.25" stroke-linejoin="round"/>
<path d="M122.13 459.35L126.43 466.70L117.83 466.70Z" fill="none" stroke="#D95319" stroke-width="2.25" stroke-linejoin="round"/>
<path d="M128.34 450.15L132.64 457.50L124.04 457.50Z" fill="none" stroke="#D95319" stroke-width="2.25" stroke-linejoin="round"/>
<path d="M134.54 437.85L138.84 445.20L130.24 445.20Z" fill="none" stroke="#D95319" stroke-width="2.25" stroke-linejoin="round"/>
<path d="M140.74 424.55L145.04 431.90L136.44 431.90Z" fill="none" stroke="#D95319" stroke-width="2.25" stroke-linejoin="round"/>
<path d="M146.94 417.55L151.25 424.90L142.64 424.90Z" fill="none" stroke="#D95319" stroke-width="2.25" stroke-linejoin="round"/>
<path d="M153.15 407.55L157.45 414.90L148.85 414.90Z" fill="none" stroke="#D95319" stroke-width="2.25" stroke-linejoin="round"/>
<path d="M159.35 409.55L163.65 416.90L155.05 416.90Z" fill="none" stroke="#D95319" stroke-width="2.25" stroke-linejoin="round"/>
<path d="M165.55 411.15L169.85 418.50L161.25 418.50Z" fill="none" stroke="#D95319" stroke-width="2.25" stroke-linejoin="round"/>
<path d="M171.76 400.95L176.06 408.30L167.46 408.30Z" fill="none" stroke="#D95319" stroke-width="2.25" stroke-linejoin="round"/>
<path d="M177.96 408.15L182.26 415.50L173.66 415.50Z" fill="none" stroke="#D95319" stroke-width="2.25" stroke-linejoin="round"/>
<path d="M184.16 405.55L188.46 412.90L179.86 412.90Z" fill="none" stroke="#D95319" stroke-width="2.25" stroke-linejoin="round"/>
<path d="M190.37 404.55L194.67 411.90L186.07 411.90Z" fill="none" stroke="#D95319" stroke-width="2.25" stroke-linejoin="round"/>
<path d="M196.57 410.95L200.87 418.30L192.27 418.30Z" fill="none" stroke="#D95319" stroke-width="2.25" stroke-linejoin="round"/>
<path d="M202.77 427.05L207.07 434.40L198.47 434.40Z" fill="none" stroke="#D95319" stroke-width="2.25" stroke-linejoin="round"/>
<path d="M208.98 432.85L213.28 440.20L204.68 440.20Z" fill="none" stroke="#D95319" stroke-width="2.25" stroke-linejoin="round"/>
<path d="M215.18 452.55L219.48 459.90L210.88 459.90Z" fill="none" stroke="#D95319" stroke-width="2.25" stroke-linejoin="round"/>
<path d="M221.38 462.55L225.68 469.90L217.08 469.90Z" fill="none" stroke="#D95319" stroke-width="2.25" stroke-linejoin="round"/>
<path d="M227.58 477.55L231.88 484.90L223.28 484.90Z" fill="none" stroke="#D95319" stroke-width="2.25" stroke-linejoin="round"/>
<path d="M233.79 488.55L238.09 495.90L229.49 495.90Z" fill="none" stroke="#D95319" stroke-width="2.25" stroke-linejoin="round"/>
<path d="M239.99 501.55L244.29 508.90L235.69 508.90Z" fill="none" stroke="#D95319" stroke-width="2.25" stroke-linejoin="round"/>
<path d="M246.19 512.55L250.49 519.90L241.89 519.90Z" fill="none" stroke="#D95319" stroke-width="2.25" stroke-linejoin="round"/>
<path d="M252.40 526.15L256.70 533.50L248.10 533.50Z" fill="none" stroke="#D95319" stroke-width="2.25" stroke-linejoin="round"/>
<path d="M258.60 541.55L262.90 548.90L254.30 548.90Z" fill="none" stroke="#D95319" stroke-width="2.25" stroke-linejoin="round"/>
<path d="M264.80 550.95L269.10 558.30L260.50 558.30Z" fill="none" stroke="#D95319" stroke-width="2.25" stroke-linejoin="round"/>
<path d="M271.00 559.55L275.31 566.90L266.70 566.90Z" fill="none" stroke="#D95319" stroke-width="2.25" stroke-linejoin="round"/>
<path d="M277.21 585.15L281.51 592.50L272.91 592.50Z" fill="none" stroke="#D95319" stroke-width="2.25" stroke-linejoin="round"/>
<path d="M283.41 597.55L287.71 604.90L279.11 604.90Z" fill="none" stroke="#D95319" stroke-width="2.25" stroke-linejoin="round"/>
<path d="M289.61 607.55L293.91 614.90L285.31 614.90Z" fill="none" stroke="#D95319" stroke-width="2.25" stroke-linejoin="round"/>
<path d="M295.82 613.55L300.12 620.90L291.52 620.90Z" fill="none" stroke="#D95319" stroke-width="2.25" stroke-linejoin="round"/>
<path d="M302.02 624.55L306.32 631.90L297.72 631.90Z" fill="none" stroke="#D95319" stroke-width="2.25" stroke-linejoin="round"/>
<path d="M308.22 632.55L312.52 639.90L303.92 639.90Z" fill="none" stroke="#D95319" stroke-width="2.25" stroke-linejoin="round"/>
<path d="M314.43 638.55L318.73 645.90L310.13 645.90Z" fill="none" stroke="#D95319" stroke-width="2.25" stroke-linejoin="round"/>
<path d="M320.63 646.55L324.93 653.90L316.33 653.90Z" fill="none" stroke="#D95319" stroke-width="2.25" stroke-linejoin="round"/>
<path d="M326.83 654.55L331.13 661.90L322.53 661.90Z" fill="none" stroke="#D95319" stroke-width="2.25" stroke-linejoin="round"/>
<path d="M333.03 657.05L337.33 664.40L328.73 664.40Z" fill="none" stroke="#D95319" stroke-width="2.25" stroke-linejoin="round"/>
<path d="M339.24 659.05L343.54 666.40L334.94 666.40Z" fill="none" stroke="#D95319" stroke-width="2.25" stroke-linejoin="round"/>
<path d="M345.44 660.05L349.74 667.40L341.14 667.40Z" fill="none" stroke="#D95319" stroke-width="2.25" stroke-linejoin="round"/>
<path d="M351.64 661.05L355.94 668.40L347.34 668.40Z" fill="none" stroke="#D95319" stroke-width="2.25" stroke-linejoin="round"/>
<path d="M357.85 661.55L362.15 668.90L353.55 668.90Z" fill="none" stroke="#D95319" stroke-width="2.25" stroke-linejoin="round"/>
<path d="M364.05 662.05L368.35 669.40L359.75 669.40Z" fill="none" stroke="#D95319" stroke-width="2.25" stroke-linejoin="round"/>
<path d="M370.25 662.05L374.55 669.40L365.95 669.40Z" fill="none" stroke="#D95319" stroke-width="2.25" stroke-linejoin="round"/>
<path d="M376.46 662.55L380.76 669.90L372.16 669.90Z" fill="none" stroke="#D95319" stroke-width="2.25" stroke-linejoin="round"/>
<path d="M382.66 662.55L386.96 669.90L378.36 669.90Z" fill="none" stroke="#D95319" stroke-width="2.25" stroke-linejoin="round"/>
<path d="M388.86 663.05L393.16 670.40L384.56 670.40Z" fill="none" stroke="#D95319" stroke-width="2.25" stroke-linejoin="round"/>
<path d="M395.06 663.05L399.37 670.40L390.76 670.40Z" fill="none" stroke="#D95319" stroke-width="2.25" stroke-linejoin="round"/>
<path d="M401.27 663.05L405.57 670.40L396.97 670.40Z" fill="none" stroke="#D95319" stroke-width="2.25" stroke-linejoin="round"/>
<path d="M407.47 663.35L411.77 670.70L403.17 670.70Z" fill="none" stroke="#D95319" stroke-width="2.25" stroke-linejoin="round"/>
<path d="M413.67 663.35L417.97 670.70L409.37 670.70Z" fill="none" stroke="#D95319" stroke-width="2.25" stroke-linejoin="round"/>
<path d="M419.88 663.55L424.18 670.90L415.58 670.90Z" fill="none" stroke="#D95319" stroke-width="2.25" stroke-linejoin="round"/>
<path d="M426.08 663.55L430.38 670.90L421.78 670.90Z" fill="none" stroke="#D95319" stroke-width="2.25" stroke-linejoin="round"/>
</g>
<g clip-path="url(#c2)">
<polyline points="53.90,668.30 60.10,668.00 66.31,667.50 72.51,665.00 78.71,661.00 84.91,656.50 91.12,650.00 97.32,643.00 103.52,633.00 109.73,621.50 115.93,609.50 122.13,592.50 128.34,575.40 134.54,556.50 140.74,537.70 146.94,518.00 153.15,500.60 159.35,483.30 165.55,467.90 171.76,451.50 177.96,453.50 184.16,453.50 190.37,459.20 196.57,465.00 202.77,470.00 208.98,474.00 215.18,476.50 221.38,485.00 227.58,490.00 233.79,492.00 239.99,496.50 246.19,508.50 252.40,511.00 258.60,516.00 264.80,520.50 271.00,531.00 277.21,536.00 283.41,542.00 289.61,553.00 295.82,554.50 302.02,562.00 308.22,567.00 314.43,578.00 320.63,591.00 326.83,597.00 333.03,603.00 339.24,618.00 345.44,626.00 351.64,632.00 357.85,640.00 364.05,643.00 370.25,643.00 376.46,653.00 382.66,657.00 388.86,659.00 395.06,662.00 401.27,665.00 407.47,666.00 413.67,667.00 419.88,667.50 426.08,668.00 432.28,668.00 438.49,668.30 444.69,668.30" fill="none" stroke="#EDB120" stroke-width="1.9" stroke-dasharray="7 5"/>
<rect x="51.30" y="665.70" width="5.20" height="5.20" fill="none" stroke="#EDB120" stroke-width="2.2"/>
<rect x="57.50" y="665.40" width="5.20" height="5.20" fill="none" stroke="#EDB120" stroke-width="2.2"/>
<rect x="63.71" y="664.90" width="5.20" height="5.20" fill="none" stroke="#EDB120" stroke-width="2.2"/>
<rect x="69.91" y="662.40" width="5.20" height="5.20" fill="none" stroke="#EDB120" stroke-width="2.2"/>
<rect x="76.11" y="658.40" width="5.20" height="5.20" fill="none" stroke="#EDB120" stroke-width="2.2"/>
<rect x="82.31" y="653.90" width="5.20" height="5.20" fill="none" stroke="#EDB120" stroke-width="2.2"/>
<rect x="88.52" y="647.40" width="5.20" height="5.20" fill="none" stroke="#EDB120" stroke-width="2.2"/>
<rect x="94.72" y="640.40" width="5.20" height="5.20" fill="none" stroke="#EDB120" stroke-width="2.2"/>
<rect x="100.92" y="630.40" width="5.20" height="5.20" fill="none" stroke="#EDB120" stroke-width="2.2"/>
<rect x="107.13" y="618.90" width="5.20" height="5.20" fill="none" stroke="#EDB120" stroke-width="2.2"/>
<rect x="113.33" y="606.90" width="5.20" height="5.20" fill="none" stroke="#EDB120" stroke-width="2.2"/>
<rect x="119.53" y="589.90" width="5.20" height="5.20" fill="none" stroke="#EDB120" stroke-width="2.2"/>
<rect x="125.74" y="572.80" width="5.20" height="5.20" fill="none" stroke="#EDB120" stroke-width="2.2"/>
<rect x="131.94" y="553.90" width="5.20" height="5.20" fill="none" stroke="#EDB120" stroke-width="2.2"/>
<rect x="138.14" y="535.10" width="5.20" height="5.20" fill="none" stroke="#EDB120" stroke-width="2.2"/>
<rect x="144.34" y="515.40" width="5.20" height="5.20" fill="none" stroke="#EDB120" stroke-width="2.2"/>
<rect x="150.55" y="498.00" width="5.20" height="5.20" fill="none" stroke="#EDB120" stroke-width="2.2"/>
<rect x="156.75" y="480.70" width="5.20" height="5.20" fill="none" stroke="#EDB120" stroke-width="2.2"/>
<rect x="162.95" y="465.30" width="5.20" height="5.20" fill="none" stroke="#EDB120" stroke-width="2.2"/>
<rect x="169.16" y="448.90" width="5.20" height="5.20" fill="none" stroke="#EDB120" stroke-width="2.2"/>
<rect x="175.36" y="450.90" width="5.20" height="5.20" fill="none" stroke="#EDB120" stroke-width="2.2"/>
<rect x="181.56" y="450.90" width="5.20" height="5.20" fill="none" stroke="#EDB120" stroke-width="2.2"/>
<rect x="187.77" y="456.60" width="5.20" height="5.20" fill="none" stroke="#EDB120" stroke-width="2.2"/>
<rect x="193.97" y="462.40" width="5.20" height="5.20" fill="none" stroke="#EDB120" stroke-width="2.2"/>
<rect x="200.17" y="467.40" width="5.20" height="5.20" fill="none" stroke="#EDB120" stroke-width="2.2"/>
<rect x="206.38" y="471.40" width="5.20" height="5.20" fill="none" stroke="#EDB120" stroke-width="2.2"/>
<rect x="212.58" y="473.90" width="5.20" height="5.20" fill="none" stroke="#EDB120" stroke-width="2.2"/>
<rect x="218.78" y="482.40" width="5.20" height="5.20" fill="none" stroke="#EDB120" stroke-width="2.2"/>
<rect x="224.98" y="487.40" width="5.20" height="5.20" fill="none" stroke="#EDB120" stroke-width="2.2"/>
<rect x="231.19" y="489.40" width="5.20" height="5.20" fill="none" stroke="#EDB120" stroke-width="2.2"/>
<rect x="237.39" y="493.90" width="5.20" height="5.20" fill="none" stroke="#EDB120" stroke-width="2.2"/>
<rect x="243.59" y="505.90" width="5.20" height="5.20" fill="none" stroke="#EDB120" stroke-width="2.2"/>
<rect x="249.80" y="508.40" width="5.20" height="5.20" fill="none" stroke="#EDB120" stroke-width="2.2"/>
<rect x="256.00" y="513.40" width="5.20" height="5.20" fill="none" stroke="#EDB120" stroke-width="2.2"/>
<rect x="262.20" y="517.90" width="5.20" height="5.20" fill="none" stroke="#EDB120" stroke-width="2.2"/>
<rect x="268.40" y="528.40" width="5.20" height="5.20" fill="none" stroke="#EDB120" stroke-width="2.2"/>
<rect x="274.61" y="533.40" width="5.20" height="5.20" fill="none" stroke="#EDB120" stroke-width="2.2"/>
<rect x="280.81" y="539.40" width="5.20" height="5.20" fill="none" stroke="#EDB120" stroke-width="2.2"/>
<rect x="287.01" y="550.40" width="5.20" height="5.20" fill="none" stroke="#EDB120" stroke-width="2.2"/>
<rect x="293.22" y="551.90" width="5.20" height="5.20" fill="none" stroke="#EDB120" stroke-width="2.2"/>
<rect x="299.42" y="559.40" width="5.20" height="5.20" fill="none" stroke="#EDB120" stroke-width="2.2"/>
<rect x="305.62" y="564.40" width="5.20" height="5.20" fill="none" stroke="#EDB120" stroke-width="2.2"/>
<rect x="311.83" y="575.40" width="5.20" height="5.20" fill="none" stroke="#EDB120" stroke-width="2.2"/>
<rect x="318.03" y="588.40" width="5.20" height="5.20" fill="none" stroke="#EDB120" stroke-width="2.2"/>
<rect x="324.23" y="594.40" width="5.20" height="5.20" fill="none" stroke="#EDB120" stroke-width="2.2"/>
<rect x="330.43" y="600.40" width="5.20" height="5.20" fill="none" stroke="#EDB120" stroke-width="2.2"/>
<rect x="336.64" y="615.40" width="5.20" height="5.20" fill="none" stroke="#EDB120" stroke-width="2.2"/>
<rect x="342.84" y="623.40" width="5.20" height="5.20" fill="none" stroke="#EDB120" stroke-width="2.2"/>
<rect x="349.04" y="629.40" width="5.20" height="5.20" fill="none" stroke="#EDB120" stroke-width="2.2"/>
<rect x="355.25" y="637.40" width="5.20" height="5.20" fill="none" stroke="#EDB120" stroke-width="2.2"/>
<rect x="361.45" y="640.40" width="5.20" height="5.20" fill="none" stroke="#EDB120" stroke-width="2.2"/>
<rect x="367.65" y="640.40" width="5.20" height="5.20" fill="none" stroke="#EDB120" stroke-width="2.2"/>
<rect x="373.86" y="650.40" width="5.20" height="5.20" fill="none" stroke="#EDB120" stroke-width="2.2"/>
<rect x="380.06" y="654.40" width="5.20" height="5.20" fill="none" stroke="#EDB120" stroke-width="2.2"/>
<rect x="386.26" y="656.40" width="5.20" height="5.20" fill="none" stroke="#EDB120" stroke-width="2.2"/>
<rect x="392.46" y="659.40" width="5.20" height="5.20" fill="none" stroke="#EDB120" stroke-width="2.2"/>
<rect x="398.67" y="662.40" width="5.20" height="5.20" fill="none" stroke="#EDB120" stroke-width="2.2"/>
<rect x="404.87" y="663.40" width="5.20" height="5.20" fill="none" stroke="#EDB120" stroke-width="2.2"/>
<rect x="411.07" y="664.40" width="5.20" height="5.20" fill="none" stroke="#EDB120" stroke-width="2.2"/>
<rect x="417.28" y="664.90" width="5.20" height="5.20" fill="none" stroke="#EDB120" stroke-width="2.2"/>
<rect x="423.48" y="665.40" width="5.20" height="5.20" fill="none" stroke="#EDB120" stroke-width="2.2"/>
<rect x="429.68" y="665.40" width="5.20" height="5.20" fill="none" stroke="#EDB120" stroke-width="2.2"/>
<rect x="435.89" y="665.70" width="5.20" height="5.20" fill="none" stroke="#EDB120" stroke-width="2.2"/>
<rect x="442.09" y="665.70" width="5.20" height="5.20" fill="none" stroke="#EDB120" stroke-width="2.2"/>
</g>
<g clip-path="url(#c2)">
<polyline points="53.90,668.60 60.10,668.50 66.31,668.30 72.51,668.00 78.71,667.30 84.91,666.30 91.12,664.80 97.32,662.70 103.52,660.00 109.73,657.20 115.93,654.30 122.13,650.80 128.34,646.00 134.54,641.50 140.74,635.30 146.94,626.80 153.15,618.50 159.35,609.20 165.55,600.40 171.76,587.90 177.96,576.50 184.16,565.00 190.37,553.70 196.57,543.00 202.77,531.50 208.98,521.00 215.18,513.30 221.38,504.60 227.58,497.00 233.79,492.00 239.99,487.30 246.19,489.00 252.40,492.00 258.60,495.00 264.80,499.50 271.00,502.00 277.21,505.00 283.41,507.00 289.61,515.60 295.82,515.60 302.02,525.00 308.22,528.00 314.43,531.00 320.63,541.50 326.83,546.50 333.03,551.20 339.24,557.00 345.44,558.00 351.64,568.40 357.85,570.80 364.05,581.70 370.25,581.70 376.46,591.30 382.66,596.20 388.86,601.90 395.06,604.80 401.27,611.50 407.47,624.00 413.67,636.50 419.88,640.20 426.08,638.30 432.28,642.50 438.49,650.40 444.69,658.10 450.89,658.10 457.09,660.00 463.30,665.80 469.50,667.00 475.70,667.50 481.91,668.00 488.11,668.30 494.31,668.50 500.52,668.50 506.72,668.50" fill="none" stroke="#7E2F8E" stroke-width="1.9" stroke-dasharray="7 5"/>
<polygon points="53.90,663.40 55.25,667.29 59.37,667.37 56.09,669.86 57.28,673.80 53.90,671.45 50.52,673.80 51.71,669.86 48.43,667.37 52.55,667.29" fill="#7E2F8E" stroke="#7E2F8E" stroke-width="0.6" stroke-linejoin="round"/>
<polygon points="60.10,663.30 61.45,667.19 65.57,667.27 62.29,669.76 63.48,673.70 60.10,671.35 56.72,673.70 57.92,669.76 54.63,667.27 58.75,667.19" fill="#7E2F8E" stroke="#7E2F8E" stroke-width="0.6" stroke-linejoin="round"/>
<polygon points="66.31,663.10 67.66,666.99 71.77,667.07 68.49,669.56 69.69,673.50 66.31,671.15 62.93,673.50 64.12,669.56 60.84,667.07 64.95,666.99" fill="#7E2F8E" stroke="#7E2F8E" stroke-width="0.6" stroke-linejoin="round"/>
<polygon points="72.51,662.80 73.86,666.69 77.98,666.77 74.70,669.26 75.89,673.20 72.51,670.85 69.13,673.20 70.32,669.26 67.04,666.77 71.16,666.69" fill="#7E2F8E" stroke="#7E2F8E" stroke-width="0.6" stroke-linejoin="round"/>
<polygon points="78.71,662.10 80.06,665.99 84.18,666.07 80.90,668.56 82.09,672.50 78.71,670.15 75.33,672.50 76.52,668.56 73.24,666.07 77.36,665.99" fill="#7E2F8E" stroke="#7E2F8E" stroke-width="0.6" stroke-linejoin="round"/>
<polygon points="84.91,661.10 86.27,664.99 90.38,665.07 87.10,667.56 88.29,671.50 84.91,669.15 81.54,671.50 82.73,667.56 79.45,665.07 83.56,664.99" fill="#7E2F8E" stroke="#7E2F8E" stroke-width="0.6" stroke-linejoin="round"/>
<polygon points="91.12,659.60 92.47,663.49 96.59,663.57 93.31,666.06 94.50,670.00 91.12,667.65 87.74,670.00 88.93,666.06 85.65,663.57 89.77,663.49" fill="#7E2F8E" stroke="#7E2F8E" stroke-width="0.6" stroke-linejoin="round"/>
<polygon points="97.32,657.50 98.67,661.39 102.79,661.47 99.51,663.96 100.70,667.90 97.32,665.55 93.94,667.90 95.13,663.96 91.85,661.47 95.97,661.39" fill="#7E2F8E" stroke="#7E2F8E" stroke-width="0.6" stroke-linejoin="round"/>
<polygon points="103.52,654.80 104.88,658.69 108.99,658.77 105.71,661.26 106.90,665.20 103.52,662.85 100.14,665.20 101.34,661.26 98.06,658.77 102.17,658.69" fill="#7E2F8E" stroke="#7E2F8E" stroke-width="0.6" stroke-linejoin="round"/>
<polygon points="109.73,652.00 111.08,655.89 115.20,655.97 111.91,658.46 113.11,662.40 109.73,660.05 106.35,662.40 107.54,658.46 104.26,655.97 108.38,655.89" fill="#7E2F8E" stroke="#7E2F8E" stroke-width="0.6" stroke-linejoin="round"/>
<polygon points="115.93,649.10 117.28,652.99 121.40,653.07 118.12,655.56 119.31,659.50 115.93,657.15 112.55,659.50 113.74,655.56 110.46,653.07 114.58,652.99" fill="#7E2F8E" stroke="#7E2F8E" stroke-width="0.6" stroke-linejoin="round"/>
<polygon points="122.13,645.60 123.48,649.49 127.60,649.57 124.32,652.06 125.51,656.00 122.13,653.65 118.75,656.00 119.95,652.06 116.66,649.57 120.78,649.49" fill="#7E2F8E" stroke="#7E2F8E" stroke-width="0.6" stroke-linejoin="round"/>
<polygon points="128.34,640.80 129.69,644.69 133.80,644.77 130.52,647.26 131.72,651.20 128.34,648.85 124.96,651.20 126.15,647.26 122.87,644.77 126.98,644.69" fill="#7E2F8E" stroke="#7E2F8E" stroke-width="0.6" stroke-linejoin="round"/>
<polygon points="134.54,636.30 135.89,640.19 140.01,640.27 136.73,642.76 137.92,646.70 134.54,644.35 131.16,646.70 132.35,642.76 129.07,640.27 133.19,640.19" fill="#7E2F8E" stroke="#7E2F8E" stroke-width="0.6" stroke-linejoin="round"/>
<polygon points="140.74,630.10 142.09,633.99 146.21,634.07 142.93,636.56 144.12,640.50 140.74,638.15 137.36,640.50 138.55,636.56 135.27,634.07 139.39,633.99" fill="#7E2F8E" stroke="#7E2F8E" stroke-width="0.6" stroke-linejoin="round"/>
<polygon points="146.94,621.60 148.30,625.49 152.41,625.57 149.13,628.06 150.32,632.00 146.94,629.65 143.57,632.00 144.76,628.06 141.48,625.57 145.59,625.49" fill="#7E2F8E" stroke="#7E2F8E" stroke-width="0.6" stroke-linejoin="round"/>
<polygon points="153.15,613.30 154.50,617.19 158.62,617.27 155.34,619.76 156.53,623.70 153.15,621.35 149.77,623.70 150.96,619.76 147.68,617.27 151.80,617.19" fill="#7E2F8E" stroke="#7E2F8E" stroke-width="0.6" stroke-linejoin="round"/>
<polygon points="159.35,604.00 160.70,607.89 164.82,607.97 161.54,610.46 162.73,614.40 159.35,612.05 155.97,614.40 157.16,610.46 153.88,607.97 158.00,607.89" fill="#7E2F8E" stroke="#7E2F8E" stroke-width="0.6" stroke-linejoin="round"/>
<polygon points="165.55,595.20 166.91,599.09 171.02,599.17 167.74,601.66 168.93,605.60 165.55,603.25 162.17,605.60 163.37,601.66 160.09,599.17 164.20,599.09" fill="#7E2F8E" stroke="#7E2F8E" stroke-width="0.6" stroke-linejoin="round"/>
<polygon points="171.76,582.70 173.11,586.59 177.23,586.67 173.94,589.16 175.14,593.10 171.76,590.75 168.38,593.10 169.57,589.16 166.29,586.67 170.41,586.59" fill="#7E2F8E" stroke="#7E2F8E" stroke-width="0.6" stroke-linejoin="round"/>
<polygon points="177.96,571.30 179.31,575.19 183.43,575.27 180.15,577.76 181.34,581.70 177.96,579.35 174.58,581.70 175.77,577.76 172.49,575.27 176.61,575.19" fill="#7E2F8E" stroke="#7E2F8E" stroke-width="0.6" stroke-linejoin="round"/>
<polygon points="184.16,559.80 185.51,563.69 189.63,563.77 186.35,566.26 187.54,570.20 184.16,567.85 180.78,570.20 181.98,566.26 178.69,563.77 182.81,563.69" fill="#7E2F8E" stroke="#7E2F8E" stroke-width="0.6" stroke-linejoin="round"/>
<polygon points="190.37,548.50 191.72,552.39 195.83,552.47 192.55,554.96 193.75,558.90 190.37,556.55 186.99,558.90 188.18,554.96 184.90,552.47 189.01,552.39" fill="#7E2F8E" stroke="#7E2F8E" stroke-width="0.6" stroke-linejoin="round"/>
<polygon points="196.57,537.80 197.92,541.69 202.04,541.77 198.76,544.26 199.95,548.20 196.57,545.85 193.19,548.20 194.38,544.26 191.10,541.77 195.22,541.69" fill="#7E2F8E" stroke="#7E2F8E" stroke-width="0.6" stroke-linejoin="round"/>
<polygon points="202.77,526.30 204.12,530.19 208.24,530.27 204.96,532.76 206.15,536.70 202.77,534.35 199.39,536.70 200.58,532.76 197.30,530.27 201.42,530.19" fill="#7E2F8E" stroke="#7E2F8E" stroke-width="0.6" stroke-linejoin="round"/>
<polygon points="208.98,515.80 210.33,519.69 214.44,519.77 211.16,522.26 212.35,526.20 208.98,523.85 205.60,526.20 206.79,522.26 203.51,519.77 207.62,519.69" fill="#7E2F8E" stroke="#7E2F8E" stroke-width="0.6" stroke-linejoin="round"/>
<polygon points="215.18,508.10 216.53,511.99 220.65,512.07 217.37,514.56 218.56,518.50 215.18,516.15 211.80,518.50 212.99,514.56 209.71,512.07 213.83,511.99" fill="#7E2F8E" stroke="#7E2F8E" stroke-width="0.6" stroke-linejoin="round"/>
<polygon points="221.38,499.40 222.73,503.29 226.85,503.37 223.57,505.86 224.76,509.80 221.38,507.45 218.00,509.80 219.19,505.86 215.91,503.37 220.03,503.29" fill="#7E2F8E" stroke="#7E2F8E" stroke-width="0.6" stroke-linejoin="round"/>
<polygon points="227.58,491.80 228.94,495.69 233.05,495.77 229.77,498.26 230.96,502.20 227.58,499.85 224.20,502.20 225.40,498.26 222.12,495.77 226.23,495.69" fill="#7E2F8E" stroke="#7E2F8E" stroke-width="0.6" stroke-linejoin="round"/>
<polygon points="233.79,486.80 235.14,490.69 239.26,490.77 235.97,493.26 237.17,497.20 233.79,494.85 230.41,497.20 231.60,493.26 228.32,490.77 232.44,490.69" fill="#7E2F8E" stroke="#7E2F8E" stroke-width="0.6" stroke-linejoin="round"/>
<polygon points="239.99,482.10 241.34,485.99 245.46,486.07 242.18,488.56 243.37,492.50 239.99,490.15 236.61,492.50 237.80,488.56 234.52,486.07 238.64,485.99" fill="#7E2F8E" stroke="#7E2F8E" stroke-width="0.6" stroke-linejoin="round"/>
<polygon points="246.19,483.80 247.54,487.69 251.66,487.77 248.38,490.26 249.57,494.20 246.19,491.85 242.81,494.20 244.01,490.26 240.72,487.77 244.84,487.69" fill="#7E2F8E" stroke="#7E2F8E" stroke-width="0.6" stroke-linejoin="round"/>
<polygon points="252.40,486.80 253.75,490.69 257.86,490.77 254.58,493.26 255.78,497.20 252.40,494.85 249.02,497.20 250.21,493.26 246.93,490.77 251.04,490.69" fill="#7E2F8E" stroke="#7E2F8E" stroke-width="0.6" stroke-linejoin="round"/>
<polygon points="258.60,489.80 259.95,493.69 264.07,493.77 260.79,496.26 261.98,500.20 258.60,497.85 255.22,500.20 256.41,496.26 253.13,493.77 257.25,493.69" fill="#7E2F8E" stroke="#7E2F8E" stroke-width="0.6" stroke-linejoin="round"/>
<polygon points="264.80,494.30 266.15,498.19 270.27,498.27 266.99,500.76 268.18,504.70 264.80,502.35 261.42,504.70 262.61,500.76 259.33,498.27 263.45,498.19" fill="#7E2F8E" stroke="#7E2F8E" stroke-width="0.6" stroke-linejoin="round"/>
<polygon points="271.00,496.80 272.36,500.69 276.47,500.77 273.19,503.26 274.38,507.20 271.00,504.85 267.63,507.20 268.82,503.26 265.54,500.77 269.65,500.69" fill="#7E2F8E" stroke="#7E2F8E" stroke-width="0.6" stroke-linejoin="round"/>
<polygon points="277.21,499.80 278.56,503.69 282.68,503.77 279.40,506.26 280.59,510.20 277.21,507.85 273.83,510.20 275.02,506.26 271.74,503.77 275.86,503.69" fill="#7E2F8E" stroke="#7E2F8E" stroke-width="0.6" stroke-linejoin="round"/>
<polygon points="283.41,501.80 284.76,505.69 288.88,505.77 285.60,508.26 286.79,512.20 283.41,509.85 280.03,512.20 281.22,508.26 277.94,505.77 282.06,505.69" fill="#7E2F8E" stroke="#7E2F8E" stroke-width="0.6" stroke-linejoin="round"/>
<polygon points="289.61,510.40 290.97,514.29 295.08,514.37 291.80,516.86 292.99,520.80 289.61,518.45 286.23,520.80 287.43,516.86 284.15,514.37 288.26,514.29" fill="#7E2F8E" stroke="#7E2F8E" stroke-width="0.6" stroke-linejoin="round"/>
<polygon points="295.82,510.40 297.17,514.29 301.29,514.37 298.00,516.86 299.20,520.80 295.82,518.45 292.44,520.80 293.63,516.86 290.35,514.37 294.47,514.29" fill="#7E2F8E" stroke="#7E2F8E" stroke-width="0.6" stroke-linejoin="round"/>
<polygon points="302.02,519.80 303.37,523.69 307.49,523.77 304.21,526.26 305.40,530.20 302.02,527.85 298.64,530.20 299.83,526.26 296.55,523.77 300.67,523.69" fill="#7E2F8E" stroke="#7E2F8E" stroke-width="0.6" stroke-linejoin="round"/>
<polygon points="308.22,522.80 309.57,526.69 313.69,526.77 310.41,529.26 311.60,533.20 308.22,530.85 304.84,533.20 306.04,529.26 302.75,526.77 306.87,526.69" fill="#7E2F8E" stroke="#7E2F8E" stroke-width="0.6" stroke-linejoin="round"/>
<polygon points="314.43,525.80 315.78,529.69 319.89,529.77 316.61,532.26 317.81,536.20 314.43,533.85 311.05,536.20 312.24,532.26 308.96,529.77 313.07,529.69" fill="#7E2F8E" stroke="#7E2F8E" stroke-width="0.6" stroke-linejoin="round"/>
<polygon points="320.63,536.30 321.98,540.19 326.10,540.27 322.82,542.76 324.01,546.70 320.63,544.35 317.25,546.70 318.44,542.76 315.16,540.27 319.28,540.19" fill="#7E2F8E" stroke="#7E2F8E" stroke-width="0.6" stroke-linejoin="round"/>
<polygon points="326.83,541.30 328.18,545.19 332.30,545.27 329.02,547.76 330.21,551.70 326.83,549.35 323.45,551.70 324.64,547.76 321.36,545.27 325.48,545.19" fill="#7E2F8E" stroke="#7E2F8E" stroke-width="0.6" stroke-linejoin="round"/>
<polygon points="333.03,546.00 334.39,549.89 338.50,549.97 335.22,552.46 336.41,556.40 333.03,554.05 329.66,556.40 330.85,552.46 327.57,549.97 331.68,549.89" fill="#7E2F8E" stroke="#7E2F8E" stroke-width="0.6" stroke-linejoin="round"/>
<polygon points="339.24,551.80 340.59,555.69 344.71,555.77 341.43,558.26 342.62,562.20 339.24,559.85 335.86,562.20 337.05,558.26 333.77,555.77 337.89,555.69" fill="#7E2F8E" stroke="#7E2F8E" stroke-width="0.6" stroke-linejoin="round"/>
<polygon points="345.44,552.80 346.79,556.69 350.91,556.77 347.63,559.26 348.82,563.20 345.44,560.85 342.06,563.20 343.25,559.26 339.97,556.77 344.09,556.69" fill="#7E2F8E" stroke="#7E2F8E" stroke-width="0.6" stroke-linejoin="round"/>
<polygon points="351.64,563.20 353.00,567.09 357.11,567.17 353.83,569.66 355.02,573.60 351.64,571.25 348.26,573.60 349.46,569.66 346.18,567.17 350.29,567.09" fill="#7E2F8E" stroke="#7E2F8E" stroke-width="0.6" stroke-linejoin="round"/>
<polygon points="357.85,565.60 359.20,569.49 363.32,569.57 360.03,572.06 361.23,576.00 357.85,573.65 354.47,576.00 355.66,572.06 352.38,569.57 356.50,569.49" fill="#7E2F8E" stroke="#7E2F8E" stroke-width="0.6" stroke-linejoin="round"/>
<polygon points="364.05,576.50 365.40,580.39 369.52,580.47 366.24,582.96 367.43,586.90 364.05,584.55 360.67,586.90 361.86,582.96 358.58,580.47 362.70,580.39" fill="#7E2F8E" stroke="#7E2F8E" stroke-width="0.6" stroke-linejoin="round"/>
<polygon points="370.25,576.50 371.60,580.39 375.72,580.47 372.44,582.96 373.63,586.90 370.25,584.55 366.87,586.90 368.07,582.96 364.78,580.47 368.90,580.39" fill="#7E2F8E" stroke="#7E2F8E" stroke-width="0.6" stroke-linejoin="round"/>
<polygon points="376.46,586.10 377.81,589.99 381.92,590.07 378.64,592.56 379.84,596.50 376.46,594.15 373.08,596.50 374.27,592.56 370.99,590.07 375.10,589.99" fill="#7E2F8E" stroke="#7E2F8E" stroke-width="0.6" stroke-linejoin="round"/>
<polygon points="382.66,591.00 384.01,594.89 388.13,594.97 384.85,597.46 386.04,601.40 382.66,599.05 379.28,601.40 380.47,597.46 377.19,594.97 381.31,594.89" fill="#7E2F8E" stroke="#7E2F8E" stroke-width="0.6" stroke-linejoin="round"/>
<polygon points="388.86,596.70 390.21,600.59 394.33,600.67 391.05,603.16 392.24,607.10 388.86,604.75 385.48,607.10 386.67,603.16 383.39,600.67 387.51,600.59" fill="#7E2F8E" stroke="#7E2F8E" stroke-width="0.6" stroke-linejoin="round"/>
<polygon points="395.06,599.60 396.42,603.49 400.53,603.57 397.25,606.06 398.44,610.00 395.06,607.65 391.69,610.00 392.88,606.06 389.60,603.57 393.71,603.49" fill="#7E2F8E" stroke="#7E2F8E" stroke-width="0.6" stroke-linejoin="round"/>
<polygon points="401.27,606.30 402.62,610.19 406.74,610.27 403.46,612.76 404.65,616.70 401.27,614.35 397.89,616.70 399.08,612.76 395.80,610.27 399.92,610.19" fill="#7E2F8E" stroke="#7E2F8E" stroke-width="0.6" stroke-linejoin="round"/>
<polygon points="407.47,618.80 408.82,622.69 412.94,622.77 409.66,625.26 410.85,629.20 407.47,626.85 404.09,629.20 405.28,625.26 402.00,622.77 406.12,622.69" fill="#7E2F8E" stroke="#7E2F8E" stroke-width="0.6" stroke-linejoin="round"/>
<polygon points="413.67,631.30 415.03,635.19 419.14,635.27 415.86,637.76 417.05,641.70 413.67,639.35 410.29,641.70 411.49,637.76 408.21,635.27 412.32,635.19" fill="#7E2F8E" stroke="#7E2F8E" stroke-width="0.6" stroke-linejoin="round"/>
<polygon points="419.88,635.00 421.23,638.89 425.35,638.97 422.06,641.46 423.26,645.40 419.88,643.05 416.50,645.40 417.69,641.46 414.41,638.97 418.53,638.89" fill="#7E2F8E" stroke="#7E2F8E" stroke-width="0.6" stroke-linejoin="round"/>
<polygon points="426.08,633.10 427.43,636.99 431.55,637.07 428.27,639.56 429.46,643.50 426.08,641.15 422.70,643.50 423.89,639.56 420.61,637.07 424.73,636.99" fill="#7E2F8E" stroke="#7E2F8E" stroke-width="0.6" stroke-linejoin="round"/>
<polygon points="432.28,637.30 433.63,641.19 437.75,641.27 434.47,643.76 435.66,647.70 432.28,645.35 428.90,647.70 430.10,643.76 426.81,641.27 430.93,641.19" fill="#7E2F8E" stroke="#7E2F8E" stroke-width="0.6" stroke-linejoin="round"/>
<polygon points="438.49,645.20 439.84,649.09 443.95,649.17 440.67,651.66 441.87,655.60 438.49,653.25 435.11,655.60 436.30,651.66 433.02,649.17 437.13,649.09" fill="#7E2F8E" stroke="#7E2F8E" stroke-width="0.6" stroke-linejoin="round"/>
<polygon points="444.69,652.90 446.04,656.79 450.16,656.87 446.88,659.36 448.07,663.30 444.69,660.95 441.31,663.30 442.50,659.36 439.22,656.87 443.34,656.79" fill="#7E2F8E" stroke="#7E2F8E" stroke-width="0.6" stroke-linejoin="round"/>
<polygon points="450.89,652.90 452.24,656.79 456.36,656.87 453.08,659.36 454.27,663.30 450.89,660.95 447.51,663.30 448.70,659.36 445.42,656.87 449.54,656.79" fill="#7E2F8E" stroke="#7E2F8E" stroke-width="0.6" stroke-linejoin="round"/>
<polygon points="457.09,654.80 458.45,658.69 462.56,658.77 459.28,661.26 460.47,665.20 457.09,662.85 453.72,665.20 454.91,661.26 451.63,658.77 455.74,658.69" fill="#7E2F8E" stroke="#7E2F8E" stroke-width="0.6" stroke-linejoin="round"/>
<polygon points="463.30,660.60 464.65,664.49 468.77,664.57 465.49,667.06 466.68,671.00 463.30,668.65 459.92,671.00 461.11,667.06 457.83,664.57 461.95,664.49" fill="#7E2F8E" stroke="#7E2F8E" stroke-width="0.6" stroke-linejoin="round"/>
<polygon points="469.50,661.80 470.85,665.69 474.97,665.77 471.69,668.26 472.88,672.20 469.50,669.85 466.12,672.20 467.31,668.26 464.03,665.77 468.15,665.69" fill="#7E2F8E" stroke="#7E2F8E" stroke-width="0.6" stroke-linejoin="round"/>
<polygon points="475.70,662.30 477.06,666.19 481.17,666.27 477.89,668.76 479.08,672.70 475.70,670.35 472.32,672.70 473.52,668.76 470.24,666.27 474.35,666.19" fill="#7E2F8E" stroke="#7E2F8E" stroke-width="0.6" stroke-linejoin="round"/>
<polygon points="481.91,662.80 483.26,666.69 487.38,666.77 484.09,669.26 485.29,673.20 481.91,670.85 478.53,673.20 479.72,669.26 476.44,666.77 480.56,666.69" fill="#7E2F8E" stroke="#7E2F8E" stroke-width="0.6" stroke-linejoin="round"/>
<polygon points="488.11,663.10 489.46,666.99 493.58,667.07 490.30,669.56 491.49,673.50 488.11,671.15 484.73,673.50 485.92,669.56 482.64,667.07 486.76,666.99" fill="#7E2F8E" stroke="#7E2F8E" stroke-width="0.6" stroke-linejoin="round"/>
<polygon points="494.31,663.30 495.66,667.19 499.78,667.27 496.50,669.76 497.69,673.70 494.31,671.35 490.93,673.70 492.13,669.76 488.84,667.27 492.96,667.19" fill="#7E2F8E" stroke="#7E2F8E" stroke-width="0.6" stroke-linejoin="round"/>
<polygon points="500.52,663.30 501.87,667.19 505.98,667.27 502.70,669.76 503.90,673.70 500.52,671.35 497.14,673.70 498.33,669.76 495.05,667.27 499.16,667.19" fill="#7E2F8E" stroke="#7E2F8E" stroke-width="0.6" stroke-linejoin="round"/>
<polygon points="506.72,663.30 508.07,667.19 512.19,667.27 508.91,669.76 510.10,673.70 506.72,671.35 503.34,673.70 504.53,669.76 501.25,667.27 505.37,667.19" fill="#7E2F8E" stroke="#7E2F8E" stroke-width="0.6" stroke-linejoin="round"/>
</g>
<line x1="404.00" y1="253.30" x2="435.00" y2="253.30" stroke="#0072BD" stroke-width="1.9" stroke-dasharray="7 5"/>
<circle cx="419.50" cy="253.30" r="3.3" fill="none" stroke="#0072BD" stroke-width="2"/>
<text class="lg" x="437.50" y="258.50">j = 0&#160;&#160;(x10)</text>
<line x1="404.00" y1="272.35" x2="435.00" y2="272.35" stroke="#D95319" stroke-width="1.9" stroke-dasharray="7 5"/>
<path d="M419.50 267.40L423.80 274.75L415.20 274.75Z" fill="none" stroke="#D95319" stroke-width="2.25" stroke-linejoin="round"/>
<text class="lg" x="437.50" y="277.55">j = 10(x10)</text>
<line x1="404.00" y1="291.40" x2="435.00" y2="291.40" stroke="#EDB120" stroke-width="1.9" stroke-dasharray="7 5"/>
<rect x="416.90" y="288.80" width="5.20" height="5.20" fill="none" stroke="#EDB120" stroke-width="2.2"/>
<text class="lg" x="437.50" y="296.60">j = 20</text>
<line x1="404.00" y1="310.45" x2="435.00" y2="310.45" stroke="#7E2F8E" stroke-width="1.9" stroke-dasharray="7 5"/>
<polygon points="419.50,305.25 420.85,309.14 424.97,309.22 421.69,311.71 422.88,315.65 419.50,313.30 416.12,315.65 417.31,311.71 414.03,309.22 418.15,309.14" fill="#7E2F8E" stroke="#7E2F8E" stroke-width="0.6" stroke-linejoin="round"/>
<text class="lg" x="437.50" y="315.65">j = 30</text>
<line x1="425.80" y1="567.70" x2="456.80" y2="567.70" stroke="#0072BD" stroke-width="1.9" stroke-dasharray="7 5"/>
<circle cx="441.30" cy="567.70" r="3.3" fill="none" stroke="#0072BD" stroke-width="2"/>
<text class="lg" x="459.30" y="572.90">j = 0</text>
<line x1="425.80" y1="586.90" x2="456.80" y2="586.90" stroke="#D95319" stroke-width="1.9" stroke-dasharray="7 5"/>
<path d="M441.30 581.95L445.60 589.30L437.00 589.30Z" fill="none" stroke="#D95319" stroke-width="2.25" stroke-linejoin="round"/>
<text class="lg" x="459.30" y="592.10">j = 10</text>
<line x1="425.80" y1="606.10" x2="456.80" y2="606.10" stroke="#EDB120" stroke-width="1.9" stroke-dasharray="7 5"/>
<rect x="438.70" y="603.50" width="5.20" height="5.20" fill="none" stroke="#EDB120" stroke-width="2.2"/>
<text class="lg" x="459.30" y="611.30">j = 20</text>
<line x1="425.80" y1="625.30" x2="456.80" y2="625.30" stroke="#7E2F8E" stroke-width="1.9" stroke-dasharray="7 5"/>
<polygon points="441.30,620.10 442.65,623.99 446.77,624.07 443.49,626.56 444.68,630.50 441.30,628.15 437.92,630.50 439.11,626.56 435.83,624.07 439.95,623.99" fill="#7E2F8E" stroke="#7E2F8E" stroke-width="0.6" stroke-linejoin="round"/>
<text class="lg" x="459.30" y="630.50">j = 30</text>
<text x="53.6" y="16.1" style="font-size:15.8px">x 10<tspan dy="-9.6" font-size="10.2">&#8722;4</tspan></text>
<text class="an" x="252.5" y="56.8">(a) E<tspan dy="7.8" font-size="13">vj</tspan><tspan dy="-7.8"> = 0.1 cm</tspan><tspan dy="-6.5" font-size="11.5">&#8722;1</tspan></text>
<text class="an" x="252.3" y="389">(b) E<tspan dy="7.8" font-size="13">vj</tspan><tspan dy="-7.8"> = 5000 cm</tspan><tspan dy="-6.5" font-size="11.5">&#8722;1</tspan></text>
<text x="286.5" y="701.2" text-anchor="middle" style="font-size:16.4px">J</text>
<text transform="translate(24.4 179.40) rotate(-90)" text-anchor="middle" style="font-size:16.4px">Cross section (10<tspan dy="-8.5" font-size="11">&#8722;16</tspan><tspan dy="8.5">cm</tspan><tspan dy="-8.5" font-size="11">2</tspan><tspan dy="8.5">)</tspan></text>
<text transform="translate(16.6 509.30) rotate(-90)" text-anchor="middle" style="font-size:16.4px">Cross section (10<tspan dy="-8.5" font-size="11">&#8722;16</tspan><tspan dy="8.5">cm</tspan><tspan dy="-8.5" font-size="11">2</tspan><tspan dy="8.5">)</tspan></text>
</svg>
</body></html>
